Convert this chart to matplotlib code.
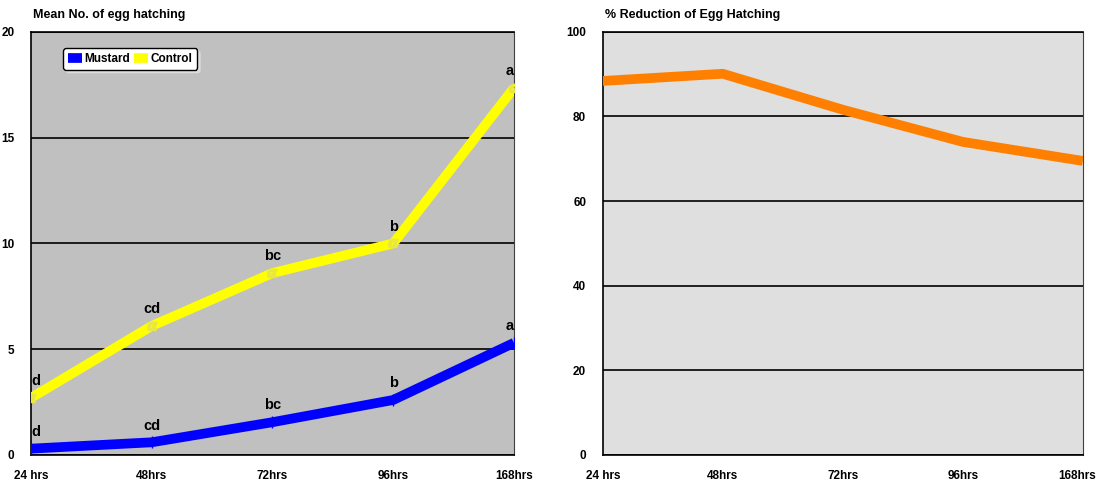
import matplotlib
matplotlib.use("Agg")
import matplotlib.pyplot as plt
from matplotlib.transforms import ScaledTranslation

plt.rcParams['font.family'] = ['Liberation Sans Narrow', 'Liberation Sans', 'DejaVu Sans']
plt.rcParams['font.weight'] = 'bold'

# data
times = ["24 hrs", "48hrs", "72hrs", "96hrs", "168hrs"]
mustard = [0.3, 0.6, 1.55, 2.6, 5.3]
control = [2.7, 6.1, 8.6, 10.0, 17.35]
mustard_letters = ["d", "cd", "bc", "b", "a"]
control_letters = ["d", "cd", "bc", "b", "a"]
reduction = [88.4, 90.1, 81.6, 74.0, 69.5]

x = list(range(len(times)))

fig = plt.figure(figsize=(11, 4.83), dpi=100)
ax1 = fig.add_axes([0.0282, 0.058, 0.439, 0.876])
ax2 = fig.add_axes([0.548, 0.058, 0.4364, 0.876])

# left chart
ax1.set_facecolor('#c0c0c0')
ax1.plot(x, mustard, color='#0000ff', lw=7, solid_capstyle='butt', label='Mustard', zorder=3)
ax1.plot(x, control, color='#ffff00', lw=7, solid_capstyle='butt', label='Control', zorder=3)
ax1.plot(x, mustard, ls='none', marker='|', ms=9, mew=1, color='#0000ff', zorder=4)
ax1.plot(x, control, ls='none', marker='$\\alpha$', ms=7, color='#e8e840', zorder=4)
for i in x:
    ha = 'left' if i == 0 else ('right' if i == len(x) - 1 else 'center')
    ax1.annotate(mustard_letters[i], (i, mustard[i]), xytext=(0, 7), textcoords='offset points',
                 ha=ha, va='bottom', fontsize=10.5, annotation_clip=False)
    ax1.annotate(control_letters[i], (i, control[i]), xytext=(0, 7), textcoords='offset points',
                 ha=ha, va='bottom', fontsize=10.5, annotation_clip=False)
ax1.set_xlim(0, 4)
ax1.set_ylim(0, 20)
ax1.set_yticks([0, 5, 10, 15, 20])
ax1.text(0.005, 1.025, "Mean No. of egg hatching", transform=ax1.transAxes, fontsize=9, ha='left', va='bottom')
leg = ax1.legend(loc='upper left', bbox_to_anchor=(0.055, 0.975), ncol=2, fontsize=8.5, fancybox=True,
                 shadow={'color': '#dddddd', 'alpha': 1}, framealpha=1, edgecolor='black',
                 handlelength=1.2, handletextpad=0.2, columnspacing=0.3, borderpad=0.4)

# right chart
ax2.set_facecolor('#dfdfdf')
ax2.plot(x, reduction, color='#ff8000', lw=7, solid_capstyle='butt', zorder=3)
ax2.set_xlim(0, 4)
ax2.set_ylim(0, 100)
ax2.set_yticks([0, 20, 40, 60, 80, 100])
ax2.text(0.005, 1.025, "% Reduction of Egg Hatching", transform=ax2.transAxes, fontsize=9, ha='left', va='bottom')

for ax in (ax1, ax2):
    ax.set_xticks(x)
    ax.set_xticklabels(times)
    ax.grid(axis='y', color='black', lw=1.2)
    ax.set_axisbelow(True)
    ax.tick_params(length=0, labelsize=8.5, pad=11)
    ax.tick_params(axis='y', pad=12)
    for s in ax.spines.values():
        s.set_color('black')
        s.set_linewidth(1.2)
    ax.spines['right'].set_color('#404040')
    ax.spines['right'].set_linewidth(0.8)

# keep the last label on the right chart inside the figure
last = ax2.get_xticklabels()[-1]
last.set_transform(last.get_transform() + ScaledTranslation(-4 / 72, 0, fig.dpi_scale_trans))

fig.savefig("out.png", dpi=100)
